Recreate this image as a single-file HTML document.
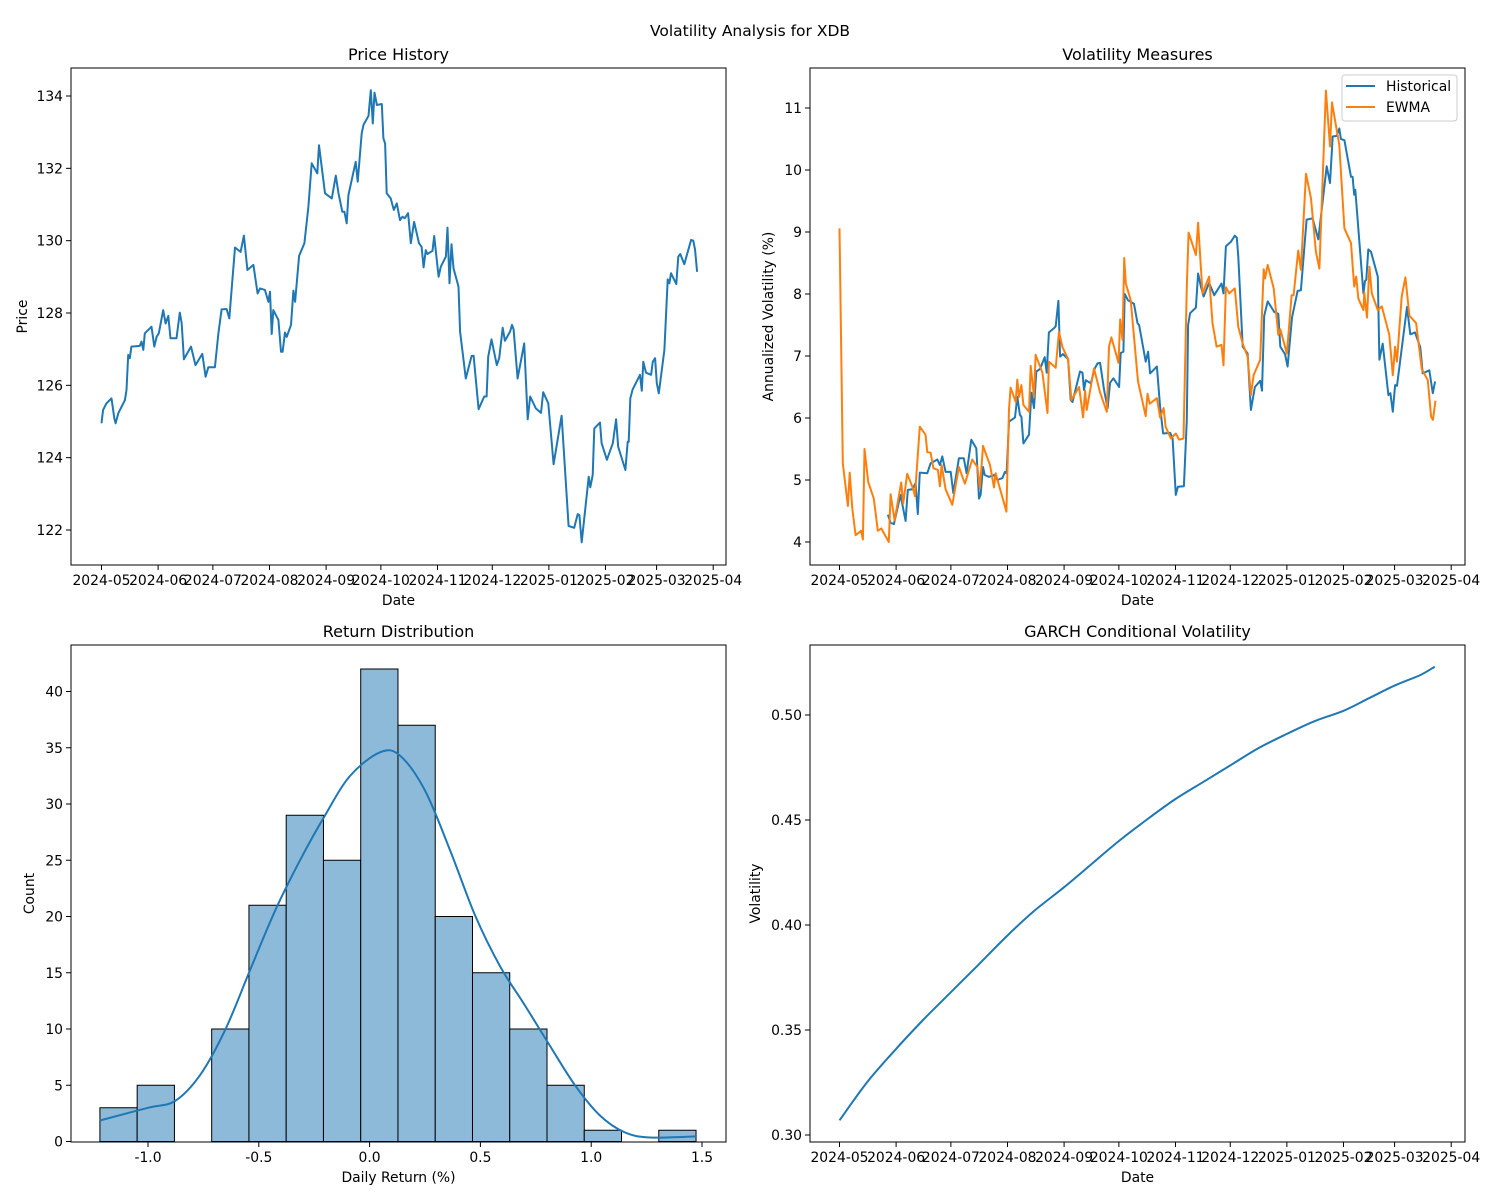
<!DOCTYPE html>
<html><head><meta charset="utf-8">
<style>
body{margin:0;background:#fff;}
svg{display:block;font-family:"DejaVu Sans","Liberation Sans",sans-serif;}
</style></head>
<body>
<svg id="fig" width="1500" height="1200" xmlns="http://www.w3.org/2000/svg">
<rect width="1500" height="1200" fill="#fff"/>
<text x="750" y="36" font-size="15.5" text-anchor="middle">Volatility Analysis for XDB</text>
</svg>
<script>
// ---- data: price history (days since 2024-05-01, price) ----
const priceDays=[0,0.9,2.7,5.5,7.0,7.7,9.2,12.8,13.7,14.6,15.5,16.4,21.0,21.9,22.9,23.7,27.4,28.9,30.2,31.4,33.8,35.1,36.6,37.8,41.1,42.9,43.9,45.1,49.0,51.5,55.2,57.0,58.5,62.1,64.0,65.8,68.5,70.0,73.1,76.2,78.0,79.9,83.2,85.5,86.8,89.5,91.4,92.3,93.2,94.1,96.9,98.3,99.2,100.5,101.4,103.8,105.1,106.0,108.2,111.1,113.3,115.1,118.2,119.1,122.4,126.1,128.3,129.8,131.9,133.0,134.3,135.2,139.2,140.3,142.5,143.5,146.2,147.5,148.6,149.5,150.8,153.5,154.4,155.3,156.2,158.4,160.1,161.7,163.5,164.8,166.1,167.9,169.4,171.2,173.9,175.3,176.4,177.6,178.5,181.3,182.2,184.6,185.8,188.6,189.5,190.6,191.7,192.8,195.5,196.4,199.5,202.7,203.8,206.5,209.6,210.9,211.8,213.6,216.5,217.8,219.7,220.9,223.7,224.8,225.7,227.9,231.5,233.4,234.8,237.9,240.7,241.9,244.7,247.6,252.0,255.8,258.9,260.8,261.7,263.0,266.8,267.7,269.0,269.9,273.0,273.9,276.8,280.0,281.8,283.0,286.9,288.2,288.7,289.6,290.9,294.9,295.9,296.7,298.2,301.0,301.9,303.2,304.1,305.2,308.3,310.1,311.0,311.9,314.8,315.9,317.0,319.2,322.9,324.1,325.1,326.2];
const priceVals=[124.95,125.32,125.50,125.64,125.09,124.95,125.23,125.59,125.87,126.84,126.75,127.07,127.09,127.21,126.98,127.44,127.62,127.07,127.34,127.44,128.08,127.71,127.92,127.30,127.30,128.01,127.71,126.72,127.07,126.56,126.87,126.24,126.50,126.50,127.44,128.10,128.11,127.85,129.81,129.69,130.14,129.19,129.33,128.54,128.68,128.64,128.31,128.59,127.42,128.08,127.81,126.93,126.93,127.46,127.34,127.67,128.62,128.31,129.58,129.93,130.94,132.14,131.86,132.64,131.31,131.17,131.80,131.31,130.80,130.80,130.48,131.26,132.18,131.63,132.97,133.20,133.45,134.16,133.24,134.09,133.75,133.78,132.83,132.69,131.31,131.17,130.85,131.03,130.57,130.66,130.62,130.76,129.93,130.52,129.93,129.83,129.26,129.74,129.63,129.72,130.13,129.00,129.28,129.56,130.36,128.82,129.90,129.24,128.73,127.48,126.19,126.81,126.82,125.34,125.69,125.69,126.79,127.27,126.56,126.75,127.59,127.23,127.48,127.67,127.55,126.19,127.16,125.06,125.69,125.36,125.24,125.81,125.50,123.82,125.16,122.11,122.06,122.44,122.41,121.66,123.47,123.18,123.52,124.81,124.97,124.40,123.94,124.40,125.06,124.30,123.66,124.44,124.44,125.64,125.89,126.29,125.85,126.65,126.35,126.29,126.65,126.75,126.06,125.78,126.98,128.93,128.82,129.10,128.80,129.56,129.63,129.35,130.02,130.00,129.74,129.14];
// ---- data: historical volatility ----
const histDays=[26.5,28.0,29.8,33.4,36.2,37.4,39.9,41.7,42.9,44.0,48.1,49.9,53.6,55.0,56.3,58.1,60.9,62.3,65.4,68.1,69.6,72.2,74.9,76.4,77.3,78.6,79.5,81.8,84.6,86.4,89.2,90.6,91.5,92.8,96.1,97.4,98.8,99.6,100.7,103.8,105.1,106.5,107.8,109.8,112.4,113.5,114.7,117.5,118.4,119.9,120.8,122.4,125.2,126.6,127.6,131.7,133.1,133.9,134.9,137.6,139.8,141.3,142.7,144.9,146.8,148.2,150.0,153.1,154.0,155.5,156.2,158.0,161.3,163.2,164.1,167.7,169.0,170.1,173.8,175.6,177.2,181.1,182.4,184.2,185.3,188.6,190.2,190.9,192.0,195.2,196.4,197.9,199.4,202.4,205.2,209.2,210.3,211.6,214.3,216.5,217.6,218.4,220.8,223.5,225.3,227.5,230.4,231.4,232.6,234.5,238.1,240.3,241.4,244.0,245.4,247.8,250.9,252.7,255.8,259.1,262.2,266.8,268.6,270.1,272.3,273.7,274.6,276.5,280.1,281.0,281.9,282.5,286.9,287.8,288.5,289.6,291.1,294.8,295.7,297.5,300.6,301.7,303.0,304.3,305.3,310.8,312.6,315.2,318.1,319.4,323.0,324.9,326.2];
const histVals=[4.44,4.31,4.29,4.76,4.34,4.84,4.85,4.95,4.45,5.12,5.11,5.27,5.33,5.24,5.38,5.13,5.13,4.79,5.35,5.35,5.11,5.65,5.51,4.70,4.76,5.21,5.08,5.05,5.08,5.00,5.03,5.13,5.11,5.94,6.01,6.34,6.05,6.02,5.59,5.73,6.41,6.16,6.75,6.79,6.98,6.73,7.38,7.45,7.48,7.89,6.99,7.03,6.95,6.29,6.26,6.75,6.73,6.45,6.61,6.56,6.80,6.88,6.89,6.45,6.16,6.57,6.64,6.50,7.05,7.07,8.00,7.90,7.84,7.53,7.50,6.91,7.07,6.72,6.83,6.18,5.75,5.76,5.67,4.76,4.89,4.90,5.97,7.50,7.69,7.78,8.33,8.12,7.96,8.18,7.98,8.17,8.01,8.77,8.84,8.94,8.91,8.60,7.15,7.04,6.13,6.50,6.60,6.44,7.65,7.88,7.71,7.68,7.15,7.03,6.83,7.62,8.05,8.06,9.20,9.22,8.88,10.06,9.79,10.54,10.55,10.67,10.50,10.48,9.89,9.89,9.60,9.68,8.01,8.21,8.23,8.72,8.68,8.28,6.94,7.20,6.37,6.40,6.10,6.53,6.52,7.79,7.35,7.38,7.14,6.72,6.77,6.40,6.59];
// ---- data: EWMA volatility ----
const ewmaDays=[0,1.8,4.6,5.6,7.0,8.8,11.9,12.8,13.7,15.7,18.8,21.0,22.9,27.0,28.0,30.2,33.8,34.9,37.1,40.2,41.3,44.0,47.1,48.1,49.9,51.4,53.9,55.0,55.9,58.1,61.8,65.4,68.7,72.7,75.5,76.9,78.6,82.4,84.6,85.5,91.4,92.8,93.7,96.5,97.4,98.3,99.6,100.7,103.8,104.7,106.5,107.4,111.1,113.9,114.7,118.4,120.2,122.1,125.2,127.0,131.2,133.4,134.5,135.4,139.4,142.7,146.4,147.6,148.9,152.8,153.7,155.0,155.9,156.8,159.5,163.5,167.7,168.7,169.9,173.8,175.6,177.5,178.6,181.5,184.2,186.0,188.4,190.2,191.2,195.2,196.4,198.8,202.4,204.3,206.5,209.2,210.3,211.6,213.4,216.5,218.4,220.8,223.5,225.3,226.8,230.4,232.3,233.0,234.5,237.8,240.3,241.4,245.0,247.6,248.7,251.2,252.7,255.5,258.2,260.9,262.8,266.4,268.6,269.7,273.7,276.5,280.1,281.9,283.0,284.1,286.9,287.4,288.9,290.2,291.5,294.8,297.0,301.1,303.0,304.3,305.3,307.9,309.9,312.1,315.8,318.9,322.2,324.0,325.0,326.4];
const ewmaVals=[9.06,5.27,4.58,5.12,4.54,4.11,4.18,4.04,5.50,4.97,4.70,4.18,4.22,4.00,4.77,4.35,4.96,4.62,5.10,4.87,4.74,5.86,5.73,5.45,5.44,5.19,5.16,4.90,5.24,4.85,4.60,5.21,4.94,5.33,5.21,4.87,5.55,5.24,4.88,5.11,4.49,6.14,6.49,6.26,6.62,6.34,6.53,6.21,6.10,6.84,6.34,7.02,6.73,6.08,6.91,6.81,7.39,7.14,6.95,6.29,6.50,6.01,6.44,6.13,6.80,6.41,6.10,7.15,7.30,6.89,7.59,7.26,8.58,8.17,7.90,6.59,6.03,6.39,6.23,6.32,6.01,6.16,5.86,5.67,5.75,5.65,5.67,8.12,8.99,8.63,9.15,8.01,8.28,7.53,7.15,7.18,6.85,8.11,8.01,8.09,7.47,7.20,6.99,6.37,6.69,6.94,8.40,8.25,8.47,8.09,7.34,7.43,7.04,7.98,7.98,8.70,8.39,9.94,9.54,8.68,8.41,11.28,10.38,11.09,10.40,9.06,8.82,8.12,8.28,7.93,7.74,8.02,7.62,8.44,8.01,7.74,7.80,7.34,6.69,7.15,6.91,7.96,8.27,7.65,7.53,6.79,6.61,6.02,5.97,6.28];
// ---- data: return histogram ----
const binStart=-1.217;
const binWidth=0.16813;
const binCounts=[3,5,0,10,21,29,25,42,37,20,15,10,5,1,0,1];
const kdeX=[-1.217,-1.0,-0.878,-0.765,-0.652,-0.54,-0.427,-0.314,-0.201,-0.088,0.047,0.137,0.25,0.363,0.476,0.588,0.701,0.814,0.927,1.04,1.153,1.266,1.473];
const kdeY=[1.87,3.0,3.6,5.9,9.9,15.2,20.5,25.0,29.0,32.5,34.6,34.3,31.2,25.9,20.1,15.6,12.1,8.5,5.0,2.3,0.8,0.36,0.45];
// ---- data: GARCH ----
const garchDays=[0,15,31,46,61,76,92,107,123,138,153,168,184,199,214,229,245,260,276,290,304,318,326];
const garchVals=[0.307,0.325,0.341,0.355,0.368,0.381,0.395,0.407,0.418,0.429,0.440,0.450,0.460,0.468,0.476,0.484,0.491,0.497,0.502,0.508,0.514,0.519,0.523];
// ---- tick labels ----
const monthLabels=["2024-05","2024-06","2024-07","2024-08","2024-09","2024-10","2024-11","2024-12","2025-01","2025-02","2025-03","2025-04"];
const monthDays=[0,31,61,92,123,153,184,214,245,276,304,335];
const priceTicks=[122,124,126,128,130,132,134];
const volTicks=[4,5,6,7,8,9,10,11];
const countTicks=[0,5,10,15,20,25,30,35,40];
const retTicks=[-1.0,-0.5,0.0,0.5,1.0,1.5];
const garchTicks=[0.30,0.35,0.40,0.45,0.50];

const NS="http://www.w3.org/2000/svg";
const svg=document.getElementById('fig');
const FS=13.9;
function mk(tag,attrs,parent){const e=document.createElementNS(NS,tag);for(const k in attrs)e.setAttribute(k,attrs[k]);(parent||svg).appendChild(e);return e;}
function lin(d0,d1,r0,r1){return v=>r0+(v-d0)*(r1-r0)/(d1-d0);}

function panel(name,L,T,R,B,title){
  const g=mk('g',{});
  
  
  const t=mk('text',{x:(L+R)/2,y:T-8,'font-size':16,'text-anchor':'middle'},g);
  t.textContent=title;
  
  
  return g;
}
function frame(g,L,T,R,B){
  const f=mk('rect',{x:L,y:T,width:R-L,height:B-T,fill:'none',stroke:'#000','stroke-width':1},g);
  
  
}
function xTicks(g,vals,labels,sx,B,name){
  vals.forEach((v,i)=>{
    const x=sx(v);
    const l=mk('line',{x1:x,y1:B,x2:x,y2:B+5,stroke:'#000'},g);
    
    
    const t=mk('text',{x:x,y:B+20,'font-size':FS,'text-anchor':'middle'},g);
    t.textContent=labels[i];
    
    
  });
}
function yTicks(g,vals,labels,sy,L,name){
  vals.forEach((v,i)=>{
    const y=sy(v);
    const l=mk('line',{x1:L-5,y1:y,x2:L,y2:y,stroke:'#000'},g);
    
    
    const t=mk('text',{x:L-8,y:y+5,'font-size':FS,'text-anchor':'end'},g);
    t.textContent=labels[i];
    
    
  });
}
function label(g,text,x,y,rot,name){
  const t=mk('text',{x:x,y:y,'font-size':FS,'text-anchor':'middle'},g);
  if(rot)t.setAttribute('transform','rotate(-90 '+x+' '+y+')');
  t.textContent=text;
  
  
}
function line(g,xs,ys,sx,sy,color,name){
  const pts=xs.map((v,i)=>sx(v).toFixed(1)+','+sy(ys[i]).toFixed(1)).join(' ');
  const p=mk('polyline',{points:pts,fill:'none',stroke:color,'stroke-width':2,'stroke-linejoin':'round'},g);
  
  
}
function smooth(g,xs,ys,sx,sy,color,name){
  const P=xs.map((v,i)=>[sx(v),sy(ys[i])]);
  let d='M'+P[0][0].toFixed(1)+','+P[0][1].toFixed(1);
  for(let i=0;i<P.length-1;i++){
    const p0=P[Math.max(0,i-1)],p1=P[i],p2=P[i+1],p3=P[Math.min(P.length-1,i+2)];
    const c1=[p1[0]+(p2[0]-p0[0])/6,p1[1]+(p2[1]-p0[1])/6];
    const c2=[p2[0]-(p3[0]-p1[0])/6,p2[1]-(p3[1]-p1[1])/6];
    d+=' C'+c1.map(v=>v.toFixed(1)).join(',')+' '+c2.map(v=>v.toFixed(1)).join(',')+' '+p2[0].toFixed(1)+','+p2[1].toFixed(1);
  }
  const p=mk('path',{d:d,fill:'none',stroke:color,'stroke-width':2},g);
  
  
}

// Panel 1: price
(function(){
  const L=71,T=68,R=726,B=565;
  const g=panel('price-history-panel',L,T,R,B,'Price History');
  const sx=lin(0,335,101.5,713.2), sy=lin(122,134,530,96);
  line(g,priceDays,priceVals,sx,sy,'#1f77b4','price-line');
  frame(g,L,T,R,B);
  xTicks(g,monthDays,monthLabels,sx,B,'price-x');
  yTicks(g,priceTicks,priceTicks.map(String),sy,L,'price-y');
  label(g,'Date',(L+R)/2,605,false,'price-x-axis-title');
  label(g,'Price',27,(T+B)/2,true,'price-y-axis-title');
})();

// Panel 2: volatility measures
(function(){
  const L=810,T=68,R=1465,B=565;
  const g=panel('volatility-measures-panel',L,T,R,B,'Volatility Measures');
  const sx=lin(0,335,839.5,1451.2), sy=lin(4,11,542,108);
  line(g,histDays,histVals,sx,sy,'#1f77b4','historical-volatility-line');
  line(g,ewmaDays,ewmaVals,sx,sy,'#ff7f0e','ewma-volatility-line');
  frame(g,L,T,R,B);
  xTicks(g,monthDays,monthLabels,sx,B,'vol-x');
  yTicks(g,volTicks,volTicks.map(String),sy,L,'vol-y');
  label(g,'Date',(L+R)/2,605,false,'vol-x-axis-title');
  label(g,'Annualized Volatility (%)',773,(T+B)/2,true,'vol-y-axis-title');
  const lg=mk('g',{},g);
  
  
  mk('rect',{x:1342,y:75,width:115,height:46,rx:3,fill:'#fff','fill-opacity':0.8,stroke:'#ccc'},lg);
  const e1=mk('line',{x1:1346,y1:86,x2:1375,y2:86,stroke:'#1f77b4','stroke-width':2},lg);
  
  
  const t1=mk('text',{x:1386,y:91,'font-size':FS},lg);t1.textContent='Historical';
  
  
  const e2=mk('line',{x1:1346,y1:107,x2:1375,y2:107,stroke:'#ff7f0e','stroke-width':2},lg);
  
  
  const t2=mk('text',{x:1386,y:112,'font-size':FS},lg);t2.textContent='EWMA';
  
  
})();

// Panel 3: histogram
(function(){
  const L=71,T=645,R=726,B=1142;
  const g=panel('return-distribution-panel',L,T,R,B,'Return Distribution');
  const sx=lin(-1,1.5,148,702), sy=lin(0,40,1141.5,691.5);
  binCounts.forEach((c,i)=>{
    const x0=sx(binStart+i*binWidth), x1=sx(binStart+(i+1)*binWidth);
    if(c<=0)return;
    const r=mk('rect',{x:x0,y:sy(c),width:x1-x0,height:sy(0)-sy(c),fill:'#8ebad9',stroke:'#000','stroke-width':1},g);
    
    
  });
  smooth(g,kdeX,kdeY,sx,sy,'#1f77b4','kde-curve');
  frame(g,L,T,R,B);
  xTicks(g,retTicks,retTicks.map(v=>v.toFixed(1)),sx,B,'return-x');
  yTicks(g,countTicks,countTicks.map(String),sy,L,'count-y');
  label(g,'Daily Return (%)',(L+R)/2,1182,false,'return-x-axis-title');
  label(g,'Count',34,(T+B)/2,true,'count-y-axis-title');
})();

// Panel 4: GARCH
(function(){
  const L=810,T=645,R=1465,B=1142;
  const g=panel('garch-panel',L,T,R,B,'GARCH Conditional Volatility');
  const sx=lin(0,335,839.5,1451.2), sy=lin(0.30,0.50,1135,715);
  smooth(g,garchDays,garchVals,sx,sy,'#1f77b4','garch-line');
  frame(g,L,T,R,B);
  xTicks(g,monthDays,monthLabels,sx,B,'garch-x');
  yTicks(g,garchTicks,garchTicks.map(v=>v.toFixed(2)),sy,L,'garch-y');
  label(g,'Date',(L+R)/2,1182,false,'garch-x-axis-title');
  label(g,'Volatility',760,(T+B)/2,true,'garch-y-axis-title');
})();
</script>
</body></html>
